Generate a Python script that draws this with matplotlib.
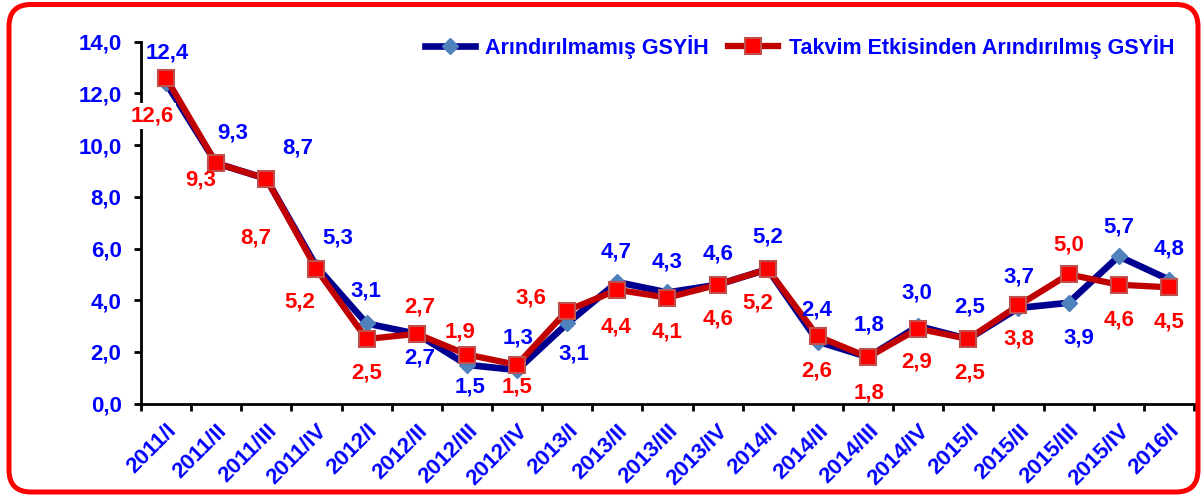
import matplotlib
matplotlib.use("Agg")
import matplotlib.pyplot as plt
from matplotlib.patches import FancyBboxPatch
from matplotlib.ticker import FixedLocator

plt.rcParams['font.family'] = ['Liberation Sans', 'DejaVu Sans']
plt.rcParams['font.weight'] = 'bold'

# quarters
quarters = ['2011/I', '2011/II', '2011/III', '2011/IV',
            '2012/I', '2012/II', '2012/III', '2012/IV',
            '2013/I', '2013/II', '2013/III', '2013/IV',
            '2014/I', '2014/II', '2014/III', '2014/IV',
            '2015/I', '2015/II', '2015/III', '2015/IV', '2016/I']

# GDP growth, %
raw_gdp = [12.4, 9.3, 8.7, 5.3, 3.1, 2.7, 1.5, 1.3, 3.1, 4.7, 4.3,
           4.6, 5.2, 2.4, 1.8, 3.0, 2.5, 3.7, 3.9, 5.7, 4.8]
cal_adj_gdp = [12.6, 9.3, 8.7, 5.2, 2.5, 2.7, 1.9, 1.5, 3.6, 4.4, 4.1,
               4.6, 5.2, 2.6, 1.8, 2.9, 2.5, 3.8, 5.0, 4.6, 4.5]

series_names = ['Arındırılmamış GSYİH', 'Takvim Etkisinden Arındırılmış GSYİH']
y_ticks = [0, 2, 4, 6, 8, 10, 12, 14]

# data label offsets in pixels (dx, dy), as placed in the original chart
raw_lbl_off = [(1, 30), (16, 30), (31, 31), (21, 29), (-1, 32), (3, -24), (3, -22),
               (1, 32), (7, -31), (-1, 30), (0, 30), (0, 31), (0, 32), (-1, 32),
               (1, 32), (-1, 33), (1, 32), (0, 31), (10, -35), (0, 29), (0, 31)]
adj_lbl_off = [(-14, -38), (-16, -17), (-11, -59), (-17, -33), (0, -34), (3, 27), (-7, 23),
               (0, -22), (-36, 13), (-1, -37), (0, -34), (0, -34), (-10, -34), (-1, -35),
               (1, -36), (-1, -33), (1, -34), (0, -34), (0, 29), (0, -35), (0, -35)]

BLUE_TXT = '#0000FF'
RED_TXT = '#FF0000'
FS = 16

fig = plt.figure(figsize=(12.02, 4.95), dpi=100)
ax = fig.add_axes([0.1173, 0.1846, 0.876, 0.7311])

x = list(range(len(quarters)))
ax.plot(x, raw_gdp, color='#000090', lw=4.8, marker='D', ms=8,
        mfc='#4F81BD', mec='#4F81BD', zorder=3, label=series_names[0])
ax.plot(x, cal_adj_gdp, color='#C00000', lw=4.5, marker='s', ms=12,
        mfc='#FF0000', mec='#C0504D', mew=1.5, zorder=4, label=series_names[1])

def fmt(v):
    return f'{v:.1f}'.replace('.', ',')

for i in x:
    ax.annotate(fmt(raw_gdp[i]), (i, raw_gdp[i]), xytext=raw_lbl_off[i],
                textcoords='offset pixels', ha='center', va='center',
                color=BLUE_TXT, fontsize=FS, fontweight='bold', zorder=6,
                annotation_clip=False)
    # the first red label sits over the y axis on a white box
    box = dict(boxstyle='square,pad=0.1', fc='white', ec='none') if i == 0 else None
    ax.annotate(fmt(cal_adj_gdp[i]), (i, cal_adj_gdp[i]), xytext=adj_lbl_off[i],
                textcoords='offset pixels', ha='center', va='center',
                color=RED_TXT, fontsize=FS, fontweight='bold', zorder=6,
                annotation_clip=False, bbox=box)

ax.set_xlim(-0.5, len(quarters) - 0.5)
ax.set_ylim(0, 14)
ax.set_yticks(y_ticks)
ax.set_yticklabels([fmt(v) for v in y_ticks], color=BLUE_TXT, fontsize=FS,
                   fontweight='bold')
ax.set_xticks(x)
ax.set_xticklabels(quarters, rotation=45, ha='right', va='top',
                   rotation_mode='anchor', color=BLUE_TXT, fontsize=FS,
                   fontweight='bold')
ax.xaxis.set_minor_locator(FixedLocator([i - 0.5 for i in range(len(quarters) + 1)]))
ax.tick_params(axis='x', which='major', length=0, pad=12)
ax.tick_params(axis='x', which='minor', length=5, width=2, direction='out')
ax.tick_params(axis='y', length=5, width=2, direction='out', pad=9)

for s in ['top', 'right']:
    ax.spines[s].set_visible(False)
for s in ['left', 'bottom']:
    ax.spines[s].set_linewidth(2)
    ax.spines[s].set_zorder(2)

leg = ax.legend(loc='center right', bbox_to_anchor=(0.993, 0.905),
                bbox_transform=fig.transFigure, ncol=2, frameon=False,
                handlelength=2.3, handletextpad=0.5, columnspacing=0.9,
                prop=dict(size=15.5, weight='bold'))
for t in leg.get_texts():
    t.set_color(BLUE_TXT)

# rounded red frame
frame = FancyBboxPatch((0.09, 0.03), 11.89, 4.875,
                       boxstyle='round,pad=0,rounding_size=0.22',
                       transform=fig.dpi_scale_trans, fill=False,
                       ec='#FF0000', lw=3.6, zorder=10)
fig.patches.append(frame)

fig.savefig('out.png', dpi=100)
